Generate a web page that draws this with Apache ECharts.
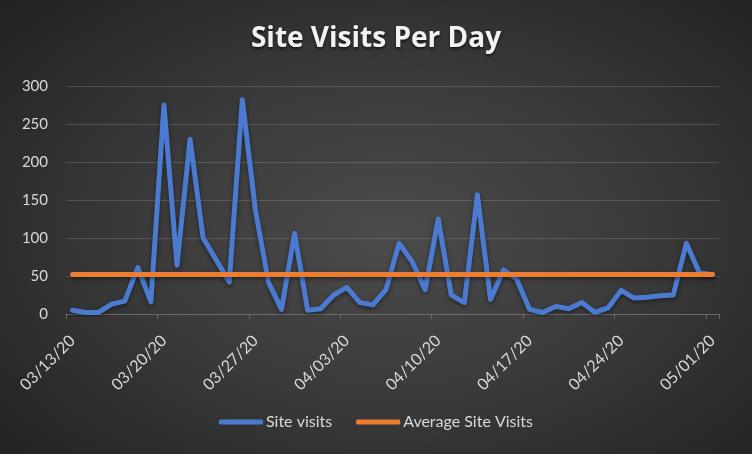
<!DOCTYPE html>
<html>
<head>
<meta charset="utf-8">
<script src="https://cdn.jsdelivr.net/npm/echarts@6/dist/echarts.min.js"></script>
<style>
  html, body { margin: 0; padding: 0; }
  #chart {
    width: 752px;
    height: 454px;
    background: radial-gradient(ellipse 75% 80% at 52% 52%, #4b4b4b 0%, #3a3a3a 45%, #262626 85%, #1f1f1f 100%);
  }
</style>
</head>
<body>
<div id="chart"></div>
<script>
// dates, one per day
const dates = [
  '03/13/20', '03/14/20', '03/15/20', '03/16/20', '03/17/20', '03/18/20', '03/19/20',
  '03/20/20', '03/21/20', '03/22/20', '03/23/20', '03/24/20', '03/25/20', '03/26/20',
  '03/27/20', '03/28/20', '03/29/20', '03/30/20', '03/31/20', '04/01/20', '04/02/20',
  '04/03/20', '04/04/20', '04/05/20', '04/06/20', '04/07/20', '04/08/20', '04/09/20',
  '04/10/20', '04/11/20', '04/12/20', '04/13/20', '04/14/20', '04/15/20', '04/16/20',
  '04/17/20', '04/18/20', '04/19/20', '04/20/20', '04/21/20', '04/22/20', '04/23/20',
  '04/24/20', '04/25/20', '04/26/20', '04/27/20', '04/28/20', '04/29/20', '04/30/20',
  '05/01/20'
]

// site visits
const siteVisits = [
  5, 2, 2, 13, 17, 61, 16,
  275, 64, 230, 100, 71, 42, 282,
  137, 42, 6, 106, 5, 7, 25,
  35, 15, 12, 32, 93, 69, 32,
  125, 25, 15, 157, 19, 58, 46,
  6, 2, 10, 7, 15, 2, 8,
  31, 21, 22, 24, 25, 93, 54,
  52
]

// average line value (flat)
const averageVisits = 52

const yTicks = [0, 50, 100, 150, 200, 250, 300]

const chart = echarts.init(document.getElementById('chart'))

const lineShadow = {
  shadowColor: 'rgba(0, 0, 0, 0.45)',
  shadowBlur: 4,
  shadowOffsetY: 2
}

chart.setOption({
  backgroundColor: 'transparent',
  title: {
    text: 'Site Visits Per Day',
    left: 'center',
    top: 20,
    textStyle: {
      fontFamily: 'Open Sans',
      fontWeight: 'bold',
      fontSize: 28,
      color: '#f2f2f2',
      textShadowColor: 'rgba(0, 0, 0, 0.6)',
      textShadowBlur: 3,
      textShadowOffsetY: 2
    }
  },
  legend: {
    bottom: 19,
    left: 'center',
    itemWidth: 44,
    itemHeight: 5,
    itemGap: 24,
    icon: 'roundRect',
    textStyle: {
      fontFamily: 'Lato',
      fontSize: 16,
      color: '#d9d9d9',
      padding: [0, 0, 0, -2]
    },
    data: ['Site visits', 'Average Site Visits']
  },
  grid: {
    left: 66,
    right: 33,
    top: 86,
    bottom: 140
  },
  xAxis: {
    type: 'category',
    data: dates,
    boundaryGap: true,
    axisLine: { lineStyle: { color: '#6a6a6a', width: 1 } },
    axisTick: {
      show: true,
      interval: (i) => i % 7 === 0,
      length: 5,
      lineStyle: { color: '#6a6a6a' }
    },
    axisLabel: {
      interval: 6,
      rotate: 45,
      margin: 24,
      fontFamily: 'Lato',
      fontSize: 16,
      color: '#d9d9d9'
    },
    splitLine: { show: false }
  },
  yAxis: {
    type: 'value',
    min: yTicks[0],
    max: yTicks[yTicks.length - 1],
    interval: 50,
    axisLine: { show: false },
    axisTick: { show: false },
    axisLabel: {
      margin: 18,
      fontFamily: 'Lato',
      fontSize: 15,
      color: '#d9d9d9'
    },
    splitLine: { lineStyle: { color: 'rgba(255, 255, 255, 0.15)', width: 1 } }
  },
  series: [
    {
      name: 'Site visits',
      type: 'line',
      data: siteVisits,
      showSymbol: false,
      symbol: 'none',
      color: '#4a7bd1',
      lineStyle: Object.assign({ width: 5, color: '#4a7bd1', cap: 'round', join: 'round' }, lineShadow),
      z: 3
    },
    {
      name: 'Average Site Visits',
      type: 'line',
      data: dates.map(() => averageVisits),
      showSymbol: false,
      symbol: 'none',
      color: '#ed7d31',
      lineStyle: Object.assign({ width: 5, color: '#ed7d31', cap: 'round' }, lineShadow),
      z: 4
    }
  ]
})
</script>
</body>
</html>
